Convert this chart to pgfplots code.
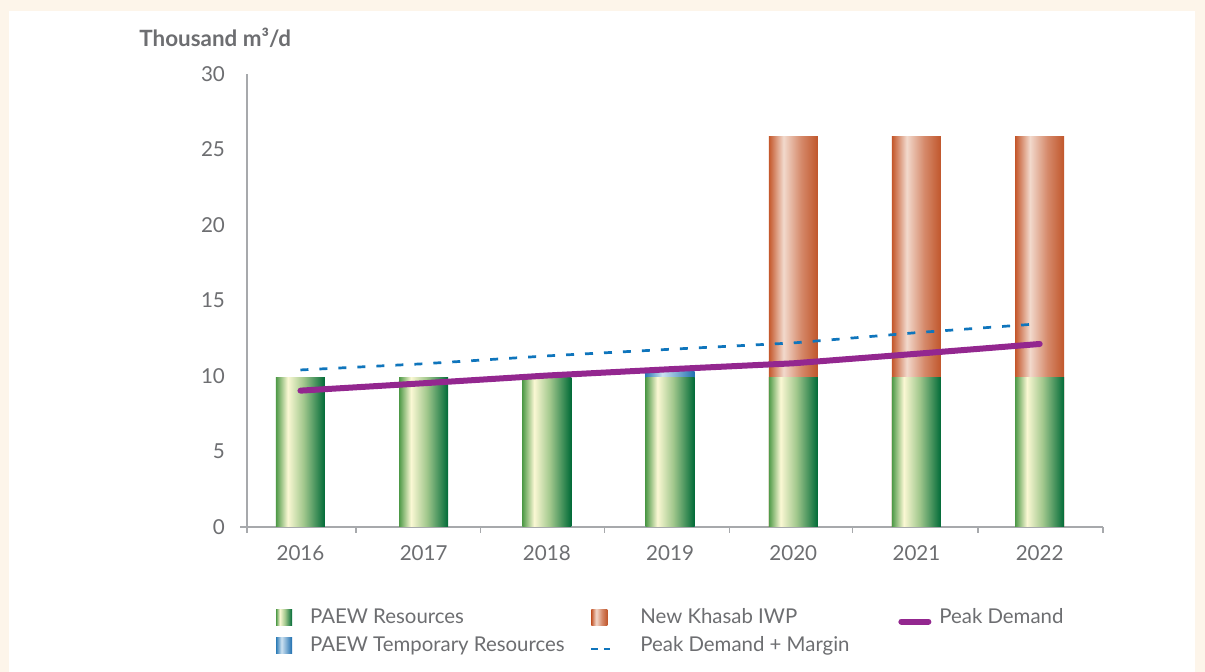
\documentclass[border=0pt]{standalone}
\usepackage{fontspec}
\setmainfont{Lato}
\usepackage{pgfplots}
\pgfplotsset{compat=1.18}
\usetikzlibrary{backgrounds}
\definecolor{cream}{HTML}{FDF5EA}
\definecolor{tgray}{HTML}{6D6E71}
\definecolor{axgray}{HTML}{A7A9AC}
\definecolor{gA}{HTML}{4F9A48}
\definecolor{gB}{HTML}{FBF8D4}
\definecolor{gC}{HTML}{A2C88D}
\definecolor{gD}{HTML}{006A37}
\definecolor{oA}{HTML}{C4572B}
\definecolor{oB}{HTML}{F2D9CC}
\definecolor{oC}{HTML}{D5896A}
\definecolor{oD}{HTML}{C0562B}
\definecolor{bA}{HTML}{2C7BB6}
\definecolor{bB}{HTML}{CDE2F1}
\definecolor{bD}{HTML}{1F6FB0}
\definecolor{purp}{HTML}{93278F}
\definecolor{dblue}{HTML}{0F75BC}
\pgfdeclarehorizontalshading{greenbar}{100bp}{color(0bp)=(gA); color(25bp)=(gA); color(37bp)=(gB); color(53bp)=(gC); color(75bp)=(gD); color(100bp)=(gD)}
\pgfdeclarehorizontalshading{orangebar}{100bp}{color(0bp)=(oA); color(25bp)=(oA); color(40bp)=(oB); color(58bp)=(oC); color(75bp)=(oD); color(100bp)=(oD)}
\pgfdeclarehorizontalshading{bluebar}{100bp}{color(0bp)=(bA); color(25bp)=(bA); color(42bp)=(bB); color(75bp)=(bD); color(100bp)=(bD)}
\pgfplotsset{
  greenb/.style={ybar, bar width=24.5pt, bar shift=0pt, draw=none, shade, shading=greenbar, forget plot},
  orangeb/.style={ybar, bar width=24.5pt, bar shift=0pt, draw=none, shade, shading=orangebar, forget plot},
  blueb/.style={ybar, bar width=24.5pt, bar shift=0pt, draw=none, shade, shading=bluebar, forget plot},
}
\begin{document}
\begin{tikzpicture}[x=1pt,y=1pt]
\begin{axis}[
  scale only axis, width=428pt, height=226.5pt,
  xmin=-0.434, xmax=6.514, ymin=0, ymax=30,
  axis x line*=bottom, axis y line*=left,
  axis line style={draw=axgray, line width=0.7pt, -},
  clip=false,
  xtick={0,1,2,3,4,5,6},
  xticklabels={2016,2017,2018,2019,2020,2021,2022},
  ytick={0,5,10,15,20,25,30},
  major tick length=0pt,
  extra x ticks={-0.434,0.45,1.46,2.47,3.48,4.48,5.5,6.514},
  extra x tick labels={},
  extra x tick style={major tick length=3pt, tick align=outside, tick style={draw=axgray, line width=0.6pt}},
  /pgf/number format/assume math mode=true,
  ticklabel style={font=\fontsize{10.3}{12}\selectfont, text=tgray},
  xticklabel style={yshift=-6pt},
  yticklabel style={xshift=-7.5pt},
  legend columns=3,
  legend style={at={(0.0339,-0.180)}, anchor=north west, draw=none, fill=none,
    inner sep=0pt, outer sep=0pt, font=\fontsize{10.2}{12}\selectfont, text=tgray,
    nodes={inner sep=0pt, anchor=west}, row sep=5.2pt, column sep=0pt},
  legend cell align=left,
]
\coordinate (O) at (rel axis cs:0,0);
\draw[axgray, line width=0.7pt] (axis cs:-0.49,0) -- (axis cs:-0.434,0);
% New Khasab IWP (stack top = 9.9 + 15.95)
\addplot[orangeb] coordinates {(4,25.85)};
\addplot[orangeb] coordinates {(5,25.85)};
\addplot[orangeb] coordinates {(6,25.85)};
% PAEW Temporary Resources (stack top = 9.9 + 0.4)
\addplot[blueb] coordinates {(3,10.3)};
% PAEW Resources
\addplot[greenb] coordinates {(0,9.9)};
\addplot[greenb] coordinates {(1,9.9)};
\addplot[greenb] coordinates {(2,9.9)};
\addplot[greenb] coordinates {(3,9.9)};
\addplot[greenb] coordinates {(4,9.9)};
\addplot[greenb] coordinates {(5,9.9)};
\addplot[greenb] coordinates {(6,9.9)};
% Peak Demand + Margin
\addplot[sharp plot, no marks, dblue, line width=1.35pt, dash pattern=on 4pt off 5.5pt, forget plot]
  coordinates {(0,10.40) (1,10.81) (2,11.33) (3,11.77) (4,12.19) (5,12.87) (6,13.46)};
% Peak Demand
\addplot[sharp plot, no marks, purp, line width=3pt, line cap=round, forget plot]
  coordinates {(0,9.03) (1,9.52) (2,10.03) (3,10.45) (4,10.84) (5,11.47) (6,12.12)};
% legend
\addlegendimage{legend image code/.code={\path[draw=none, shade, shading=greenbar] (0pt,-4pt) rectangle (8pt,4pt); \path[draw=none, fill=none] (0pt,0pt) -- (17pt,0pt);}}
\addlegendentry{\makebox[140pt][l]{PAEW Resources}}
\addlegendimage{legend image code/.code={\path[draw=none, shade, shading=orangebar] (0pt,-4pt) rectangle (8pt,4pt); \path[draw=none, fill=none] (0pt,0pt) -- (24.5pt,0pt);}}
\addlegendentry{\makebox[129pt][l]{New Khasab IWP}}
\addlegendimage{legend image code/.code={\draw[purp, line width=3pt, line cap=round] (1.5pt,-2pt) -- (15pt,-2pt); \path[draw=none, fill=none] (0pt,0pt) -- (20.5pt,0pt);}}
\addlegendentry{Peak Demand}
\addlegendimage{legend image code/.code={\path[draw=none, shade, shading=bluebar] (0pt,-4pt) rectangle (8pt,4pt); \path[draw=none, fill=none] (0pt,0pt) -- (17pt,0pt);}}
\addlegendentry{\makebox[140pt][l]{PAEW Temporary Resources}}
\addlegendimage{legend image code/.code={\draw[dblue, line width=1.35pt, dash pattern=on 3.2pt off 3pt] (0pt,-1.5pt) -- (9.5pt,-1.5pt); \path[draw=none, fill=none] (0pt,0pt) -- (24.5pt,0pt);}}
\addlegendentry{\makebox[129pt][l]{Peak Demand + Margin}}
\end{axis}
\begin{scope}[on background layer, shift={(O)}]
\fill[cream] (-123.5,-72.5) rectangle ++(602.5,336);
\fill[white] (-119,-72.5) rectangle ++(593,330.5);
\end{scope}
\begin{scope}[shift={(O)}]
\node[anchor=west, font=\bfseries\fontsize{11.2}{13}\selectfont, text=tgray, inner sep=0pt] at (-54,244.5) {Thousand m³/d};
\end{scope}
\end{tikzpicture}
\end{document}
